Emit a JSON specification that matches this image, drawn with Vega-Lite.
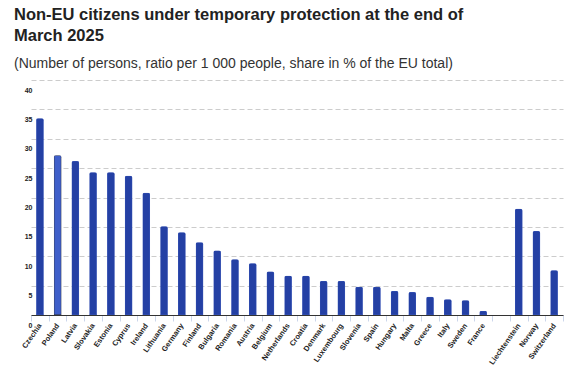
{
  "$schema": "https://vega.github.io/schema/vega-lite/v6.json",
  "width": 532,
  "height": 235,
  "autosize": {"type": "none"},
  "padding": {"left": 31, "top": 80, "right": 6, "bottom": 60},
  "background": "white",
  "title": {
    "text": ["Non-EU citizens under temporary protection at the end of", "March 2025"],
    "subtitle": "(Number of persons, ratio per 1 000 people, share in % of the EU total)",
    "anchor": "start",
    "frame": "group",
    "dx": -17,
    "offset": 9,
    "font": "Liberation Sans",
    "fontSize": 16.5,
    "fontWeight": "bold",
    "lineHeight": 21,
    "color": "#222222",
    "subtitleFont": "Liberation Sans",
    "subtitleFontSize": 14,
    "subtitleColor": "#333333",
    "subtitlePadding": 13
  },
  "data": {
    "values": [
      {"country": "Czechia", "ratio": 33.5, "highlight": "no"},
      {"country": "Poland", "ratio": 27.2, "highlight": "yes"},
      {"country": "Latvia", "ratio": 26.2, "highlight": "no"},
      {"country": "Slovakia", "ratio": 24.3, "highlight": "no"},
      {"country": "Estonia", "ratio": 24.3, "highlight": "no"},
      {"country": "Cyprus", "ratio": 23.7, "highlight": "no"},
      {"country": "Ireland", "ratio": 20.8, "highlight": "no"},
      {"country": "Lithuania", "ratio": 15.1, "highlight": "no"},
      {"country": "Germany", "ratio": 14.1, "highlight": "no"},
      {"country": "Finland", "ratio": 12.4, "highlight": "no"},
      {"country": "Bulgaria", "ratio": 11.0, "highlight": "no"},
      {"country": "Romania", "ratio": 9.5, "highlight": "no"},
      {"country": "Austria", "ratio": 8.8, "highlight": "no"},
      {"country": "Belgium", "ratio": 7.4, "highlight": "no"},
      {"country": "Netherlands", "ratio": 6.7, "highlight": "no"},
      {"country": "Croatia", "ratio": 6.7, "highlight": "no"},
      {"country": "Denmark", "ratio": 5.8, "highlight": "no"},
      {"country": "Luxembourg", "ratio": 5.8, "highlight": "no"},
      {"country": "Slovenia", "ratio": 4.8, "highlight": "no"},
      {"country": "Spain", "ratio": 4.8, "highlight": "no"},
      {"country": "Hungary", "ratio": 4.1, "highlight": "no"},
      {"country": "Malta", "ratio": 3.9, "highlight": "no"},
      {"country": "Greece", "ratio": 3.1, "highlight": "no"},
      {"country": "Italy", "ratio": 2.7, "highlight": "no"},
      {"country": "Sweden", "ratio": 2.5, "highlight": "no"},
      {"country": "France", "ratio": 0.7, "highlight": "no"},
      {"country": "Liechtenstein", "ratio": 18.1, "highlight": "no"},
      {"country": "Norway", "ratio": 14.3, "highlight": "no"},
      {"country": "Switzerland", "ratio": 7.6, "highlight": "no"}
    ]
  },
  "mark": {
    "type": "bar",
    "size": 7.5,
    "cornerRadiusTopLeft": 2,
    "cornerRadiusTopRight": 2,
    "strokeWidth": 1
  },
  "encoding": {
    "x": {
      "field": "country",
      "type": "nominal",
      "sort": null,
      "scale": {
        "domain": ["Czechia", "Poland", "Latvia", "Slovakia", "Estonia", "Cyprus", "Ireland", "Lithuania", "Germany", "Finland", "Bulgaria", "Romania", "Austria", "Belgium", "Netherlands", "Croatia", "Denmark", "Luxembourg", "Slovenia", "Spain", "Hungary", "Malta", "Greece", "Italy", "Sweden", "France", " ", "Liechtenstein", "Norway", "Switzerland"],
        "paddingInner": 0,
        "paddingOuter": 0
      },
      "axis": {
        "title": null,
        "labelAngle": -55,
        "labelFont": "Liberation Sans",
        "labelFontSize": 7.5,
        "labelFontWeight": "bold",
        "labelColor": "#222222",
        "labelPadding": 3,
        "tickBand": "extent",
        "tickColor": "#ccd6eb",
        "tickSize": 6,
        "domainColor": "#333333",
        "domainWidth": 1,
        "grid": false
      }
    },
    "y": {
      "field": "ratio",
      "type": "quantitative",
      "scale": {"domain": [0, 40]},
      "axis": {
        "title": null,
        "values": [0, 5, 10, 15, 20, 25, 30, 35, 40],
        "ticks": false,
        "domain": false,
        "labelFont": "Liberation Sans",
        "labelFontSize": 7,
        "labelFontWeight": "bold",
        "labelColor": "#222222",
        "labelBaseline": "line-top",
        "labelLineHeight": 20,
        "labelPadding": -1,
        "gridColor": "#cccccc",
        "gridDash": [5, 3],
        "gridWidth": 1
      }
    },
    "color": {
      "field": "highlight",
      "type": "nominal",
      "scale": {"domain": ["no", "yes"], "range": ["#2440a4", "#3f5fca"]},
      "legend": null
    },
    "stroke": {
      "field": "highlight",
      "type": "nominal",
      "scale": {"domain": ["no", "yes"], "range": ["#3a56b8", "#333333"]},
      "legend": null
    }
  },
  "config": {
    "view": {"stroke": null},
    "axis": {"labelOverlap": false}
  }
}
